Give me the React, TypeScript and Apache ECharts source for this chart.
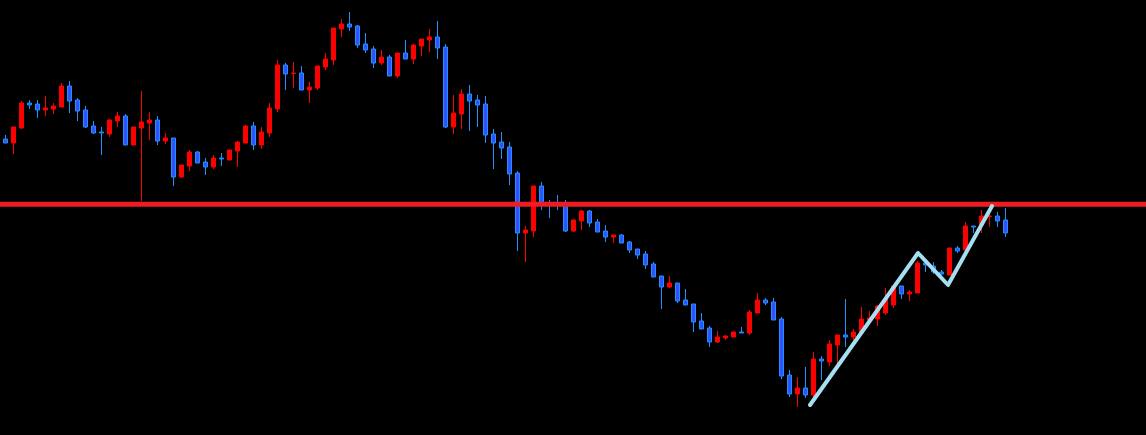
import React, { useEffect, useRef } from "react";
import * as echarts from "echarts";

// OHLC (price units; higher = up). Each row: [open, close, low, high]
const candles: number[][] = [
  [296, 292, 292, 300], [292, 308, 281, 308], [307, 332, 306, 334], [332, 330, 326, 335],
  [331, 325, 317, 335], [325, 327, 319, 339], [326, 329, 321, 332], [328, 349, 328, 352],
  [349, 334, 322, 354], [335, 324, 314, 337], [325, 308, 307, 329], [309, 302, 301, 314],
  [303, 302, 280, 308], [301, 315, 298, 316], [314, 319, 308, 323], [319, 290, 290, 321],
  [290, 308, 290, 308], [307, 313, 234, 344], [312, 315, 295, 323], [315, 294, 290, 319],
  [294, 297, 291, 302], [297, 258, 249, 297], [258, 270, 257, 270], [269, 283, 264, 285],
  [283, 272, 272, 284], [273, 268, 260, 277], [268, 277, 266, 280], [277, 276, 269, 282],
  [275, 285, 275, 285], [284, 293, 268, 294], [292, 309, 292, 310], [309, 290, 285, 313],
  [290, 303, 286, 308], [302, 327, 298, 332], [326, 370, 323, 375], [370, 361, 345, 372],
  [361.5, 362, 347, 373], [362, 345, 345, 369], [345, 348, 332, 353], [347, 369, 345, 369],
  [368, 376, 365, 382], [375, 407, 370, 407], [406, 411, 398, 416], [411, 408, 404, 423],
  [409, 390, 387, 410], [391, 385, 382, 402], [386, 372, 367, 389], [372, 378, 370, 385],
  [378, 359, 359, 380], [359, 382, 357, 382], [382, 376, 376, 395], [376, 390, 371, 391],
  [389, 396, 379, 396], [395, 398, 383, 406], [398, 387, 376, 414], [388, 308, 307, 391],
  [308, 322, 301, 340], [321, 341, 306, 346], [341, 334, 304, 350], [335, 330, 308, 340],
  [331, 300, 292, 339], [301, 292, 266, 306], [293, 287, 276, 303], [288, 261, 250, 293],
  [262, 202, 184, 264], [202, 205, 173, 209], [204, 249, 198, 249], [249, 230, 225, 253],
  [232, 230, 217, 235], [232, 230, 225, 240], [232, 204, 203, 235], [204, 215, 203, 216],
  [214, 224, 205, 225], [224, 212, 208, 225], [213, 203, 203, 216], [204, 198, 193, 210],
  [198, 200, 192, 200], [200, 192, 192, 201], [193, 185, 182, 194], [186, 180, 176, 186],
  [181, 170, 166, 184], [171, 158, 158, 173], [159, 148, 126, 159], [148, 152, 147, 159],
  [152, 134, 132, 152], [135, 130, 130, 146], [131, 113, 103, 131], [114, 106, 106, 122],
  [107, 93, 88, 109], [93, 98, 92, 104], [97, 99, 95, 100], [98, 103, 98, 104],
  [103, 102, 102, 108], [102, 123, 100, 125], [122, 135, 122, 142], [135, 132, 130, 137],
  [133, 115, 115, 137], [116, 59, 56, 118], [60, 41, 38, 65], [41, 47, 28, 58],
  [47, 40, 37, 68], [40, 76, 38, 83], [76, 74, 55, 79], [73, 91, 69, 95],
  [90, 100, 70, 100], [100, 98, 88, 136], [98, 103, 94, 106], [102, 116, 101, 128],
  [115, 117, 115, 124], [116, 129, 109, 130], [122, 136, 120, 147], [130, 149, 127, 149],
  [149, 141, 136, 149], [141, 143, 134, 145], [142, 172, 142, 174], [172, 170, 163, 175],
  [169, 163, 161, 173], [163, 161, 160, 165], [160, 187, 160, 187], [187, 184, 182, 189],
  [185, 209, 185, 213], [209, 208, 202, 209], [210, 219, 202, 225], [218.5, 219, 208, 221],
  [219, 214, 208, 223], [215, 202, 198, 227],
];

const categories: string[] = candles.map((_, i) => String(i + 1));

// horizontal resistance level (price)
const resistanceLevel = 230.7;

// zigzag trend line: [bar position, price]
const zigzag: number[][] = [
  [100.59, 30],
  [114.09, 182],
  [117.84, 150],
  [123.34, 229],
];

const TOTAL_SLOTS = 143;

export default function App() {
  const ref = useRef<HTMLDivElement>(null);

  useEffect(() => {
    if (!ref.current) return;
    const chart = echarts.init(ref.current, undefined, { renderer: "svg" });
    chart.setOption({
      animation: false,
      backgroundColor: "#000000",
      grid: { left: 1.3, right: 0.7, top: 0, bottom: 0 },
      xAxis: [
        {
          type: "category",
          data: categories,
          max: TOTAL_SLOTS - 1,
          boundaryGap: true,
          show: false,
        },
        {
          type: "value",
          min: -0.5,
          max: TOTAL_SLOTS - 0.5,
          show: false,
        },
      ],
      yAxis: {
        type: "value",
        min: 0,
        max: 435,
        show: false,
        splitLine: { show: false },
      },
      series: [
        {
          type: "candlestick",
          data: candles,
          barWidth: 4,
          z: 2,
          itemStyle: {
            color: "#ff0000",
            color0: "#3352ff",
            borderColor: "#ff0000",
            borderColor0: "#1e90ff",
            borderWidth: 1,
          },
        },
        {
          type: "line",
          xAxisIndex: 1,
          clip: false,
          data: [
            [-1, resistanceLevel],
            [TOTAL_SLOTS, resistanceLevel],
          ],
          symbol: "none",
          z: 3,
          lineStyle: { color: "#f01c24", width: 5 },
          silent: true,
        },
        {
          type: "line",
          xAxisIndex: 1,
          data: zigzag,
          symbol: "none",
          z: 4,
          lineStyle: { color: "#a6dff0", width: 4, cap: "round", join: "round" },
          silent: true,
        },
      ],
    });
    return () => chart.dispose();
  }, []);

  return (
    <div
      ref={ref}
      style={{
        position: "fixed",
        left: 0,
        top: 0,
        width: 1146,
        height: 435,
        background: "#000",
      }}
    />
  );
}
